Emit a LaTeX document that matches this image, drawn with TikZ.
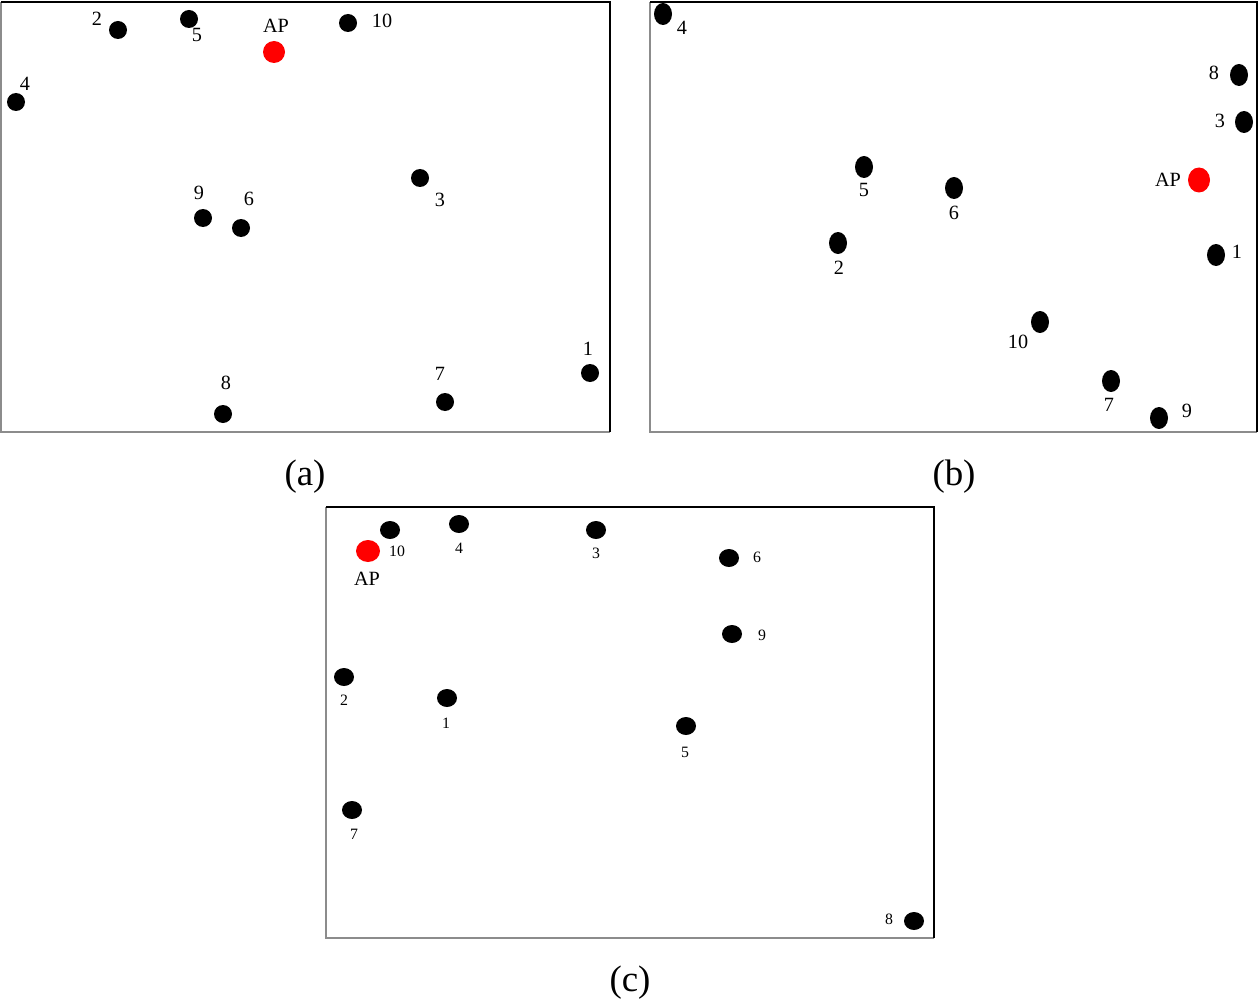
\documentclass[tikz,border=0pt]{standalone}
\usepackage{fontspec}
\setmainfont{Liberation Serif}
\usetikzlibrary{shapes.geometric}
\begin{document}
\begin{tikzpicture}[x=0.02cm,y=-0.02cm,
  bdot/.style={circle,fill=black,inner sep=0pt,minimum size=18*0.02cm},
  edot/.style={ellipse,fill=black,inner sep=0pt,minimum width=18*0.02cm,minimum height=22*0.02cm},
  cdot/.style={ellipse,fill=black,inner sep=0pt,minimum width=20*0.02cm,minimum height=18*0.02cm},
  apdot/.style={fill=red,inner sep=0pt},
  lab/.style={font=\fontsize{11.5}{13}\selectfont,inner sep=0pt},
  slab/.style={font=\fontsize{9}{11}\selectfont,inner sep=0pt},
  captxt/.style={font=\fontsize{21}{24}\selectfont,inner sep=0pt},
  thickb/.style={line width=1.4pt,black},
  thinb/.style={line width=0.6pt,black!45}]
\useasboundingbox (0,0) rectangle (1260,1000);
% ---------- panel (a) ----------
\coordinate (aTL) at (1,2); \coordinate (aTR) at (610,2);
\coordinate (aBR) at (610,432); \coordinate (aBL) at (1,432);
\draw[thinb] (aTL) -- (aBL) -- (aBR);
\draw[thickb] (aTL) -- (aTR) -- (aBR);
\node[bdot] (a2) at (118,30) {}; \node[lab] (la2) at (97,19) {2};
\node[bdot] (a5) at (189,19) {}; \node[lab] (la5) at (197,35) {5};
\node[apdot,circle,minimum size=22*0.02cm] (aAP) at (274,52) {}; \node[lab] (laAP) at (276,26) {AP};
\node[bdot] (a10) at (348,23) {}; \node[lab] (la10) at (382,21) {10};
\node[bdot] (a4) at (16,102) {}; \node[lab] (la4) at (25,84) {4};
\node[bdot] (a9) at (203,218) {}; \node[lab] (la9) at (199,193) {9};
\node[bdot] (a6) at (241,228) {}; \node[lab] (la6) at (249,199) {6};
\node[bdot] (a3) at (420,178) {}; \node[lab] (la3) at (440,200) {3};
\node[bdot] (a8) at (223,414) {}; \node[lab] (la8) at (226,383) {8};
\node[bdot] (a7) at (445,402) {}; \node[lab] (la7) at (440,374) {7};
\node[bdot] (a1) at (590,373) {}; \node[lab] (la1) at (588,349) {1};
\node[captxt] (capa) at (305,477) {(a)};
% ---------- panel (b) ----------
\coordinate (bTL) at (650,2); \coordinate (bTR) at (1257,2);
\coordinate (bBR) at (1257,432); \coordinate (bBL) at (650,432);
\draw[thinb] (bTL) -- (bBL) -- (bBR);
\draw[thickb] (bTL) -- (bTR) -- (bBR);
\node[edot] (b4) at (663,14) {}; \node[lab] (lb4) at (682,28) {4};
\node[edot] (b8) at (1239,75) {}; \node[lab] (lb8) at (1214,73) {8};
\node[edot] (b3) at (1244,122) {}; \node[lab] (lb3) at (1220,121) {3};
\node[apdot,ellipse,minimum width=22*0.02cm,minimum height=25*0.02cm] (bAP) at (1199,180) {}; \node[lab] (lbAP) at (1168,180) {AP};
\node[edot] (b5) at (864,167) {}; \node[lab] (lb5) at (864,190) {5};
\node[edot] (b6) at (954,188) {}; \node[lab] (lb6) at (954,213) {6};
\node[edot] (b2) at (838,243) {}; \node[lab] (lb2) at (839,268) {2};
\node[edot] (b1) at (1216,255) {}; \node[lab] (lb1) at (1237,252) {1};
\node[edot] (b10) at (1040,322) {}; \node[lab] (lb10) at (1018,342) {10};
\node[edot] (b7) at (1111,381) {}; \node[lab] (lb7) at (1109,405) {7};
\node[edot] (b9) at (1159,418) {}; \node[lab] (lb9) at (1187,411) {9};
\node[captxt] (capb) at (954,477) {(b)};
% ---------- panel (c) ----------
\coordinate (cTL) at (326,507); \coordinate (cTR) at (934,507);
\coordinate (cBR) at (934,938); \coordinate (cBL) at (326,938);
\draw[thinb] (cTL) -- (cBL) -- (cBR);
\draw[thickb] (cTL) -- (cTR) -- (cBR);
\node[cdot] (c10) at (390,530) {}; \node[slab] (lc10) at (397,551) {10};
\node[cdot] (c4) at (459,524) {}; \node[slab] (lc4) at (459,548) {4};
\node[cdot] (c3) at (596,530) {}; \node[slab] (lc3) at (596,553) {3};
\node[apdot,ellipse,minimum width=24*0.02cm,minimum height=22*0.02cm] (cAP) at (368,551) {}; \node[lab] (lcAP) at (367,579) {AP};
\node[cdot] (c6) at (729,558) {}; \node[slab] (lc6) at (757,557) {6};
\node[cdot] (c9) at (732,634) {}; \node[slab] (lc9) at (762,635) {9};
\node[cdot] (c2) at (344,677) {}; \node[slab] (lc2) at (344,700) {2};
\node[cdot] (c1) at (447,698) {}; \node[slab] (lc1) at (446,723) {1};
\node[cdot] (c5) at (686,726) {}; \node[slab] (lc5) at (685,752) {5};
\node[cdot] (c7) at (352,810) {}; \node[slab] (lc7) at (354,834) {7};
\node[cdot] (c8) at (914,921) {}; \node[slab] (lc8) at (889,919) {8};
\node[captxt] (capc) at (630,983) {(c)};
\end{tikzpicture}
\end{document}
